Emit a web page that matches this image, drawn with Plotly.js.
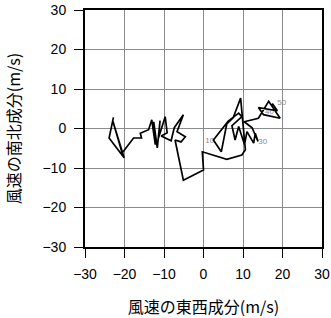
<!DOCTYPE html>
<html>
<head>
<meta charset="utf-8">
<script src="https://cdn.plot.ly/plotly-3.0.1.min.js"></script>
<style>html,body{margin:0;padding:0;background:#fff;}#chart{width:331px;height:318px;}</style>
</head>
<body>
<div id="chart"></div>
<script>
// Wind hodograph: east-west (u) and north-south (v) components, m/s
const windU = [-22.8, -23.9, -20.1, -22.9, -20.6, -17.7, -15.7, -16.0, -13.9,
  -13.1, -12.2, -12.6, -11.7, -11.0, -11.4, -9.7, -9.2, -10.7, -8.2, -7.4, -5.1, -6.7, -4.6, -5.7, -7.2,
  -5.1, 0.0, -0.3, 5.9, 9.7, 10.6, 9.4, 7.5, 5.9, 4.5, 2.5,
  6.2, 8.9, 9.7, 7.2, 8.0, 8.9, 10.4, 11.0, 12.7, 13.1, 13.8, 12.3, 10.3,
  13.9, 16.5, 19.4, 15.2, 13.9, 18.7, 17.4];
const windV = [2.8, -2.4, -7.4, 1.7, -6.2, -2.4, -2.4, -1.2, -0.3,
  2.2, -4.1, 1.7, -4.9, 2.0, -2.4, 3.0, -1.1, -1.9, -3.1, 0.2, 3.5, -0.8, -2.1, -3.4, -2.9,
  -13.1, -10.5, -5.9, -7.8, -6.7, -5.4, 7.7, 2.7, 1.2, -5.9, -2.9,
  1.8, 3.9, 3.0, 0.7, -2.9, 0.5, -4.1, -0.8, -3.7, -1.2, -3.3, 0.2, 1.7,
  2.6, 6.9, 2.6, 3.5, 5.3, 4.5, 6.3];
// point labels
const labelText = ["10", "30", "40", "50"];
const labelU = [1.6, 15.0, 16.7, 19.8];
const labelV = [-3.1, -3.5, 4.2, 6.4];
const tickVals = [-30, -20, -10, 0, 10, 20, 30];

const cjk = '"Noto Sans CJK JP", "Noto Sans", sans-serif';
const latin = '"Liberation Sans", Arial, sans-serif';

const traces = [
  {x: labelU, y: labelV, text: labelText, mode: 'text', type: 'scatter',
   textfont: {family: latin, size: 8, color: '#8a8a8a'}, hoverinfo: 'skip', cliponaxis: false},
  {x: windU, y: windV, mode: 'lines', type: 'scatter',
   line: {color: '#000', width: 1.7}, hoverinfo: 'skip'}
];

function axis(titleText, standoff, labelStandoff) {
  return {
    range: [-30, 30], tickvals: tickVals, autorange: false,
    showgrid: true, gridcolor: '#8a8a8a', gridwidth: 1,
    zeroline: false, showline: true, linecolor: '#000', linewidth: 2, mirror: true,
    ticks: 'outside', ticklen: 9, tickwidth: 1, tickcolor: '#000',
    ticklabelstandoff: labelStandoff,
    tickfont: {family: latin, size: 14, color: '#000'},
    title: {text: titleText, font: {family: cjk, size: 16, color: '#000'}, standoff: standoff},
    automargin: false, fixedrange: true
  };
}

const layout = {
  width: 331, height: 318,
  margin: {l: 85, r: 9, t: 10, b: 71},
  paper_bgcolor: '#fff', plot_bgcolor: '#fff',
  showlegend: false,
  xaxis: axis('風速の東西成分(m/s)', 22, 4),
  yaxis: axis('風速の南北成分(m/s)', 18, 5)
};

Plotly.newPlot('chart', traces, layout, {staticPlot: true, displayModeBar: false});
</script>
</body>
</html>
